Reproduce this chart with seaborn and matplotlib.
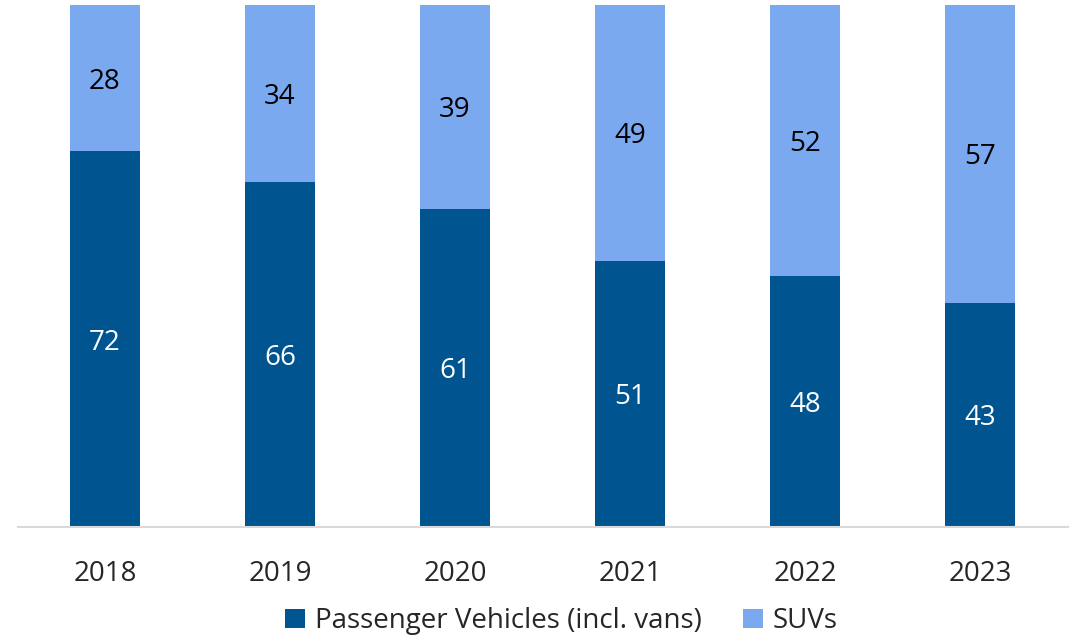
import numpy as np
import matplotlib.pyplot as plt
import seaborn as sns
import pandas as pd

# datos del grafico (porcentaje por anio)
anios = ["2018", "2019", "2020", "2021", "2022", "2023"]
pasajeros = [72, 66, 61, 51, 48, 43]
suvs = [28, 34, 39, 49, 52, 57]

color_osc = "#00548F"
color_cla = "#7BA9F0"

sns.set_theme(style="white")
plt.rcParams['font.family'] = ['Open Sans', 'DejaVu Sans']

fig = plt.figure(figsize=(10.77, 6.38), dpi=100)
ax = fig.add_axes([17.5 / 1077, 111 / 638, 1050 / 1077, 522 / 638])

df = pd.DataFrame({"anio": anios, "pas": pasajeros, "suv": suvs})
df["total"] = df["pas"] + df["suv"]

# barras apiladas: primero el total (claro), despues pasajeros (oscuro)
sns.barplot(data=df, x="anio", y="total", color=color_cla, width=0.4,
            saturation=1, ax=ax, label="SUVs", linewidth=0)
sns.barplot(data=df, x="anio", y="pas", color=color_osc, width=0.4,
            saturation=1, ax=ax, label="Passenger Vehicles (incl. vans)", linewidth=0)

# etiquetas en el medio de cada segmento
for i in range(len(anios)):
    ax.text(i, pasajeros[i] / 2, str(pasajeros[i]), ha="center", va="center_baseline",
            color="white", fontsize=20)
    ax.text(i, pasajeros[i] + suvs[i] / 2, str(suvs[i]), ha="center", va="center_baseline",
            color="black", fontsize=20)

ax.set_ylim(0, 100)
ax.set_xlim(-0.5, len(anios) - 0.5)
ax.set_xlabel("")
ax.set_ylabel("")
ax.set_yticks([])
ax.tick_params(axis="x", labelsize=20, pad=24, length=0)
for s in ["top", "right", "left"]:
    ax.spines[s].set_visible(False)
ax.spines["bottom"].set_color("#D9D9D9")
ax.spines["bottom"].set_linewidth(1.5)

# leyenda con el oscuro primero
h, l = ax.get_legend_handles_labels()
ax.legend(h[::-1], l[::-1], loc="center", bbox_to_anchor=(0.518, -0.18),
          ncol=2, frameon=False, fontsize=20, handlelength=0.7, handleheight=0.7,
          handletextpad=0.35, columnspacing=1.5)

fig.savefig("out.png", dpi=100)
